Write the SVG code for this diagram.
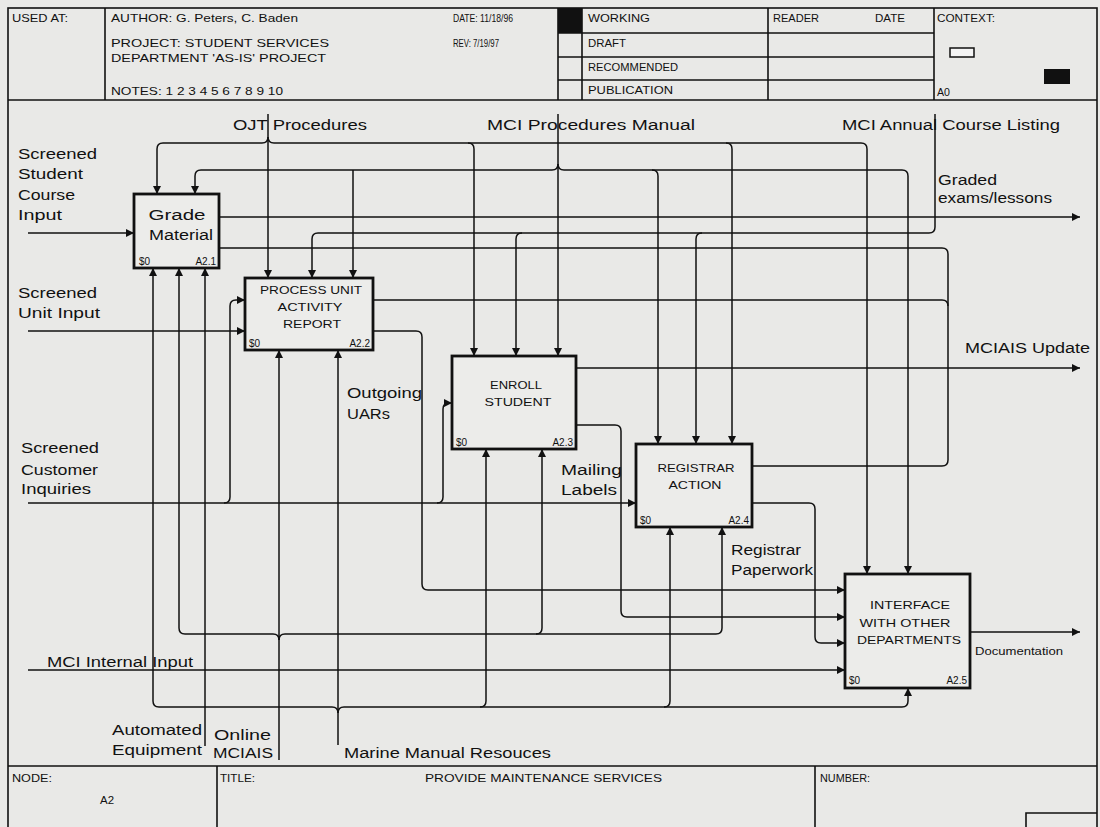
<svg xmlns="http://www.w3.org/2000/svg" width="1100" height="827" viewBox="0 0 1100 827">
<defs>
<style>
.frame{fill:none;stroke:#111;stroke-width:1.6}
.c{fill:none;stroke:#111;stroke-width:1.5}
.box{fill:#ececea;stroke:#111;stroke-width:2.8}
.lbl{font-family:"Liberation Sans",Arial,sans-serif;font-size:14px;fill:#111}
.bt{font-family:"Liberation Sans",Arial,sans-serif;font-size:14px;fill:#111}
.bu{font-family:"Liberation Sans",Arial,sans-serif;font-size:11px;fill:#111}
.sm{font-family:"Liberation Sans",Arial,sans-serif;font-size:10px;fill:#111}
.hd{font-family:"Liberation Sans",Arial,sans-serif;font-size:10.5px;fill:#111}
</style>
<marker id="ah" viewBox="0 0 8 8" refX="8" refY="4" markerWidth="8" markerHeight="8" markerUnits="userSpaceOnUse" orient="auto">
<path d="M0,0 L8,4 L0,8 z" fill="#111"/>
</marker>
</defs>
<rect x="0" y="0" width="1100" height="827" fill="#e9e9e7"/>

<g id="frame">
<rect class="frame" x="8" y="8" width="1089" height="830"/>
<line class="frame" x1="8" y1="100" x2="1097" y2="100"/>
<line class="frame" x1="105" y1="8" x2="105" y2="100"/>
<line class="frame" x1="558" y1="8" x2="558" y2="100"/>
<line class="frame" x1="582" y1="8" x2="582" y2="100"/>
<line class="frame" x1="768" y1="8" x2="768" y2="100"/>
<line class="frame" x1="934" y1="8" x2="934" y2="100"/>
<line class="frame" x1="558" y1="33" x2="934" y2="33"/>
<line class="frame" x1="558" y1="57" x2="934" y2="57"/>
<line class="frame" x1="558" y1="80" x2="934" y2="80"/>
<rect x="558" y="8" width="24" height="25" fill="#111"/>
<rect x="950" y="48" width="24" height="9" fill="#f4f4f4" stroke="#111" stroke-width="1.5"/>
<rect x="1044" y="69" width="26" height="15" fill="#111"/>
<line class="frame" x1="8" y1="766" x2="1097" y2="766"/>
<line class="frame" x1="217" y1="766" x2="217" y2="827"/>
<line class="frame" x1="815" y1="766" x2="815" y2="827"/>
<polyline class="frame" points="1026,827 1026,813 1097,813"/>
<text class="hd" x="12" y="22" textLength="56" lengthAdjust="spacingAndGlyphs">USED AT:</text>
<text class="hd" x="111" y="22" textLength="187" lengthAdjust="spacingAndGlyphs">AUTHOR: G. Peters, C. Baden</text>
<text class="hd" x="111" y="47" textLength="218" lengthAdjust="spacingAndGlyphs">PROJECT: STUDENT SERVICES</text>
<text class="hd" x="111" y="62" textLength="215" lengthAdjust="spacingAndGlyphs">DEPARTMENT 'AS-IS' PROJECT</text>
<text class="hd" x="111" y="95" textLength="172" lengthAdjust="spacingAndGlyphs">NOTES: 1 2 3 4 5 6 7 8 9 10</text>
<text class="hd" x="453" y="22" textLength="60" lengthAdjust="spacingAndGlyphs">DATE: 11/18/96</text>
<text class="hd" x="453" y="47" textLength="46" lengthAdjust="spacingAndGlyphs">REV: 7/19/97</text>
<text class="hd" x="588" y="22" textLength="62" lengthAdjust="spacingAndGlyphs">WORKING</text>
<text class="hd" x="588" y="47" textLength="38" lengthAdjust="spacingAndGlyphs">DRAFT</text>
<text class="hd" x="588" y="71" textLength="90" lengthAdjust="spacingAndGlyphs">RECOMMENDED</text>
<text class="hd" x="588" y="94" textLength="85" lengthAdjust="spacingAndGlyphs">PUBLICATION</text>
<text class="hd" x="773" y="22" textLength="46" lengthAdjust="spacingAndGlyphs">READER</text>
<text class="hd" x="875" y="22" textLength="30" lengthAdjust="spacingAndGlyphs">DATE</text>
<text class="hd" x="937" y="22" textLength="58" lengthAdjust="spacingAndGlyphs">CONTEXT:</text>
<text class="hd" x="937" y="96" textLength="13" lengthAdjust="spacingAndGlyphs">A0</text>
<text class="hd" x="12" y="782" textLength="40" lengthAdjust="spacingAndGlyphs">NODE:</text>
<text class="hd" x="100" y="804" textLength="14" lengthAdjust="spacingAndGlyphs">A2</text>
<text class="hd" x="220" y="782" textLength="35" lengthAdjust="spacingAndGlyphs">TITLE:</text>
<text class="hd" x="425" y="782" textLength="237" lengthAdjust="spacingAndGlyphs">PROVIDE MAINTENANCE SERVICES</text>
<text class="hd" x="820" y="782" textLength="50" lengthAdjust="spacingAndGlyphs">NUMBER:</text>
</g>

<g id="connectors">
<!-- OJT Procedures -->
<path class="c" d="M268,114 V278" marker-end="url(#ah)"/>
<path class="c" d="M268,137 Q268,143 262,143 H163 Q157,143 157,149 V194" marker-end="url(#ah)"/>
<path class="c" d="M268,137 Q268,143 274,143 H861 Q867,143 867,149 V574" marker-end="url(#ah)"/>
<path class="c" d="M468,143 Q474,143 474,149 V356" marker-end="url(#ah)"/>
<path class="c" d="M726,143 Q732,143 732,149 V444" marker-end="url(#ah)"/>
<!-- MCI Procedures Manual -->
<path class="c" d="M558,114 V356" marker-end="url(#ah)"/>
<path class="c" d="M558,164 Q558,170 552,170 H201 Q195,170 195,176 V194" marker-end="url(#ah)"/>
<path class="c" d="M558,164 Q558,170 564,170 H902 Q908,170 908,176 V574" marker-end="url(#ah)"/>
<path class="c" d="M353,170 V278" marker-end="url(#ah)"/>
<path class="c" d="M652,170 Q658,170 658,176 V444" marker-end="url(#ah)"/>
<!-- MCI Annual Course Listing -->
<path class="c" d="M935,114 V227 Q935,233 929,233 H318 Q312,233 312,239 V278" marker-end="url(#ah)"/>
<path class="c" d="M522,233 Q516,233 516,239 V356" marker-end="url(#ah)"/>
<path class="c" d="M702,233 Q696,233 696,239 V444" marker-end="url(#ah)"/>
<!-- Outputs -->
<path class="c" d="M219,217 H1080" marker-end="url(#ah)"/>
<path class="c" d="M219,248 H942 Q948,248 948,254 V460 Q948,466 942,466 H752"/>
<path class="c" d="M373,300 H942 Q948,300 948,306"/>
<path class="c" d="M576,368 H1080" marker-end="url(#ah)"/>
<path class="c" d="M373,331 H416 Q422,331 422,337 V584 Q422,590 428,590 H845" marker-end="url(#ah)"/>
<path class="c" d="M576,425 H615 Q621,425 621,431 V611 Q621,617 627,617 H845" marker-end="url(#ah)"/>
<path class="c" d="M752,503 H809 Q815,503 815,509 V637 Q815,643 821,643 H845" marker-end="url(#ah)"/>
<path class="c" d="M970,632 H1080" marker-end="url(#ah)"/>
<!-- Inputs -->
<path class="c" d="M28,233 H134" marker-end="url(#ah)"/>
<path class="c" d="M28,331 H245" marker-end="url(#ah)"/>
<path class="c" d="M28,503 H636" marker-end="url(#ah)"/>
<path class="c" d="M224,503 Q230,503 230,497 V306 Q230,300 236,300 H245" marker-end="url(#ah)"/>
<path class="c" d="M437,503 Q443,503 443,497 V409 Q443,403 449,403 H452" marker-end="url(#ah)"/>
<path class="c" d="M28,670 H845" marker-end="url(#ah)"/>
<!-- Mechanisms -->
<path class="c" d="M205,746 V268" marker-end="url(#ah)"/>
<path class="c" d="M279,760 V350" marker-end="url(#ah)"/>
<path class="c" d="M279,640 Q279,634 273,634 H185 Q179,634 179,628 V268" marker-end="url(#ah)"/>
<path class="c" d="M279,640 Q279,634 285,634 H716 Q722,634 722,628 V527" marker-end="url(#ah)"/>
<path class="c" d="M536,634 Q542,634 542,628 V449" marker-end="url(#ah)"/>
<path class="c" d="M338,745 V350" marker-end="url(#ah)"/>
<path class="c" d="M338,713 Q338,707 332,707 H159 Q153,707 153,701 V268" marker-end="url(#ah)"/>
<path class="c" d="M338,713 Q338,707 344,707 H902 Q908,707 908,701 V688" marker-end="url(#ah)"/>
<path class="c" d="M480,707 Q486,707 486,701 V449" marker-end="url(#ah)"/>
<path class="c" d="M664,707 Q670,707 670,701 V527" marker-end="url(#ah)"/>
</g>

<g id="labels">
<text class="lbl" x="233" y="130" textLength="134" lengthAdjust="spacingAndGlyphs">OJT Procedures</text>
<text class="lbl" x="487" y="130" textLength="208" lengthAdjust="spacingAndGlyphs">MCI Procedures Manual</text>
<text class="lbl" x="842" y="130" textLength="218" lengthAdjust="spacingAndGlyphs">MCI Annual Course Listing</text>
<text class="lbl" x="18" y="159" textLength="79" lengthAdjust="spacingAndGlyphs">Screened</text>
<text class="lbl" x="18" y="179" textLength="65" lengthAdjust="spacingAndGlyphs">Student</text>
<text class="lbl" x="18" y="200" textLength="57" lengthAdjust="spacingAndGlyphs">Course</text>
<text class="lbl" x="18" y="220" textLength="44" lengthAdjust="spacingAndGlyphs">Input</text>
<text class="lbl" x="18" y="298" textLength="79" lengthAdjust="spacingAndGlyphs">Screened</text>
<text class="lbl" x="18" y="318" textLength="82" lengthAdjust="spacingAndGlyphs">Unit Input</text>
<text class="lbl" x="21" y="453" textLength="78" lengthAdjust="spacingAndGlyphs">Screened</text>
<text class="lbl" x="21" y="475" textLength="77" lengthAdjust="spacingAndGlyphs">Customer</text>
<text class="lbl" x="21" y="494" textLength="70" lengthAdjust="spacingAndGlyphs">Inquiries</text>
<text class="lbl" x="347" y="398" textLength="75" lengthAdjust="spacingAndGlyphs">Outgoing</text>
<text class="lbl" x="347" y="419" textLength="43" lengthAdjust="spacingAndGlyphs">UARs</text>
<text class="lbl" x="561" y="475" textLength="61" lengthAdjust="spacingAndGlyphs">Mailing</text>
<text class="lbl" x="561" y="495" textLength="56" lengthAdjust="spacingAndGlyphs">Labels</text>
<text class="lbl" x="731" y="555" textLength="70" lengthAdjust="spacingAndGlyphs">Registrar</text>
<text class="lbl" x="731" y="575" textLength="82" lengthAdjust="spacingAndGlyphs">Paperwork</text>
<text class="lbl" x="47" y="667" textLength="146" lengthAdjust="spacingAndGlyphs">MCI Internal Input</text>
<text class="lbl" x="112" y="735" textLength="90" lengthAdjust="spacingAndGlyphs">Automated</text>
<text class="lbl" x="112" y="755" textLength="90" lengthAdjust="spacingAndGlyphs">Equipment</text>
<text class="lbl" x="214" y="740" textLength="57" lengthAdjust="spacingAndGlyphs">Online</text>
<text class="lbl" x="213" y="758" textLength="60" lengthAdjust="spacingAndGlyphs">MCIAIS</text>
<text class="lbl" x="344" y="758" textLength="207" lengthAdjust="spacingAndGlyphs">Marine Manual Resouces</text>
<text class="lbl" x="938" y="185" textLength="59" lengthAdjust="spacingAndGlyphs">Graded</text>
<text class="lbl" x="938" y="203" textLength="114" lengthAdjust="spacingAndGlyphs">exams/lessons</text>
<text class="lbl" x="965" y="353" textLength="125" lengthAdjust="spacingAndGlyphs">MCIAIS Update</text>
<text class="sm" x="975" y="655" textLength="88" lengthAdjust="spacingAndGlyphs">Documentation</text>
</g>

<g id="A2.1">
<rect class="box" x="134" y="194" width="85" height="74"/>
<text class="bt" x="177" y="220" text-anchor="middle" textLength="57" lengthAdjust="spacingAndGlyphs">Grade</text>
<text class="bt" x="181" y="240" text-anchor="middle" textLength="64" lengthAdjust="spacingAndGlyphs">Material</text>
<text class="sm" x="139" y="265">$0</text>
<text class="sm" x="216" y="265" text-anchor="end">A2.1</text>
</g>
<g id="A2.2">
<rect class="box" x="245" y="278" width="128" height="72"/>
<text class="bu" x="311" y="294" text-anchor="middle" textLength="102" lengthAdjust="spacingAndGlyphs">PROCESS UNIT</text>
<text class="bu" x="310" y="311" text-anchor="middle" textLength="65" lengthAdjust="spacingAndGlyphs">ACTIVITY</text>
<text class="bu" x="312" y="328" text-anchor="middle" textLength="58" lengthAdjust="spacingAndGlyphs">REPORT</text>
<text class="sm" x="249" y="347">$0</text>
<text class="sm" x="370" y="347" text-anchor="end">A2.2</text>
</g>
<g id="A2.3">
<rect class="box" x="452" y="356" width="124" height="93"/>
<text class="bu" x="516" y="389" text-anchor="middle" textLength="52" lengthAdjust="spacingAndGlyphs">ENROLL</text>
<text class="bu" x="518" y="406" text-anchor="middle" textLength="67" lengthAdjust="spacingAndGlyphs">STUDENT</text>
<text class="sm" x="456" y="446">$0</text>
<text class="sm" x="573" y="446" text-anchor="end">A2.3</text>
</g>
<g id="A2.4">
<rect class="box" x="636" y="444" width="116" height="83"/>
<text class="bu" x="696" y="472" text-anchor="middle" textLength="77" lengthAdjust="spacingAndGlyphs">REGISTRAR</text>
<text class="bu" x="695" y="489" text-anchor="middle" textLength="53" lengthAdjust="spacingAndGlyphs">ACTION</text>
<text class="sm" x="640" y="524">$0</text>
<text class="sm" x="749" y="524" text-anchor="end">A2.4</text>
</g>
<g id="A2.5">
<rect class="box" x="845" y="574" width="125" height="114"/>
<text class="bu" x="910" y="609" text-anchor="middle" textLength="80" lengthAdjust="spacingAndGlyphs">INTERFACE</text>
<text class="bu" x="905" y="627" text-anchor="middle" textLength="91" lengthAdjust="spacingAndGlyphs">WITH OTHER</text>
<text class="bu" x="909" y="644" text-anchor="middle" textLength="104" lengthAdjust="spacingAndGlyphs">DEPARTMENTS</text>
<text class="sm" x="849" y="684">$0</text>
<text class="sm" x="967" y="684" text-anchor="end">A2.5</text>
</g>
</svg>
